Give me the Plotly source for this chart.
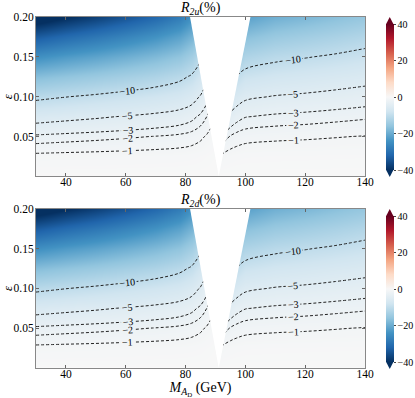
import plotly.graph_objects as go
from plotly.subplots import make_subplots

# grid (M_AD in GeV, epsilon)
M_cols = [30, 40, 50, 60, 70, 78, 82, 85, 87, 89, 91, 92, 93, 95, 97, 100, 110, 120, 130, 140]
eps_rows = [0.0, 0.025, 0.05, 0.075, 0.1, 0.125, 0.15, 0.175, 0.2]
n_left = 11  # columns below the Z pole (up to 91 GeV)

# R (%) values, one row per epsilon
z_R2u = [
    [0] * 20,
    [-0.68, -0.63, -0.59, -0.54, -0.49, -0.44, -0.38, -0.30, -0.23, -0.14, -0.06, -0.78, -0.63, -0.48, -0.40, -0.34, -0.30, -0.28, -0.26, -0.24],
    [-2.73, -2.53, -2.35, -2.16, -1.96, -1.75, -1.53, -1.20, -0.90, -0.58, -0.25, -3.13, -2.50, -1.90, -1.60, -1.36, -1.21, -1.14, -1.05, -0.96],
    [-6.13, -5.68, -5.29, -4.87, -4.42, -3.94, -3.43, -2.70, -2.03, -1.29, -0.56, -7.03, -5.63, -4.28, -3.60, -3.07, -2.73, -2.56, -2.36, -2.17],
    [-10.9, -10.1, -9.4, -8.65, -7.85, -7.0, -6.1, -4.8, -3.6, -2.3, -1.0, -12.5, -10.0, -7.6, -6.4, -5.45, -4.85, -4.55, -4.2, -3.85],
    [-17.0, -15.8, -14.7, -13.5, -12.3, -10.9, -9.53, -7.5, -5.63, -3.59, -1.56, -19.5, -15.6, -11.9, -10.0, -8.52, -7.58, -7.11, -6.56, -6.02],
    [-24.5, -22.7, -21.2, -19.5, -17.7, -15.8, -13.7, -10.8, -8.1, -5.2, -2.3, -28.1, -22.5, -17.1, -14.4, -12.3, -10.9, -10.2, -9.5, -8.7],
    [-33.4, -30.9, -28.8, -26.5, -24.0, -21.4, -18.7, -14.7, -11.0, -7.0, -3.1, -38.3, -30.6, -23.3, -19.6, -16.7, -14.9, -13.9, -12.9, -11.8],
    [-43.6, -40.4, -37.6, -34.6, -31.4, -28.0, -24.4, -19.2, -14.4, -9.2, -4.0, -50.0, -40.0, -30.4, -25.6, -21.8, -19.4, -18.2, -16.8, -15.4],
]
z_R2d = [row[:] for row in z_R2u]  # the two panels look the same by eye

levels = [-10, -5, -3, -2, -1]

# excluded wedge around the Z mass
gap_M = [81.5, 91.1, 101.7]
gap_eps = [0.2, 0.0, 0.2]

rdbu_r = ['#053061', '#2166ac', '#4393c3', '#92c5de', '#d1e5f0', '#f7f7f7',
          '#fddbc7', '#f4a582', '#d6604d', '#b2182b', '#67001f']
FONT = 'Liberation Serif'

fig = make_subplots(rows=2, cols=1, vertical_spacing=0.092)

# pixel -> paper helper (plot area spans x 36..365, y 17..368)
L, T, W, H = 36, 17, 329, 351
def pp(xp, yp):
    return (xp - L) / W, 1 - (yp - T) / H

panels = [(1, z_R2u, '<i>R</i><sub><i>2u</i></sub>(%)', 'coloraxis', 97),
          (2, z_R2d, '<i>R</i><sub><i>2d</i></sub>(%)', 'coloraxis2', 289)]

for row, z, title, cax, cb_mid in panels:
    fig.add_trace(go.Heatmap(x=M_cols, y=eps_rows, z=z, coloraxis=cax, zsmooth='best',
                             hoverinfo='skip'), row=row, col=1)
    for sl in (slice(0, n_left), slice(n_left, None)):
        xs = M_cols[sl]
        zs = [r[sl] for r in z]
        for lv in levels:
            fig.add_trace(go.Contour(
                x=xs, y=eps_rows, z=zs, autocontour=False,
                contours=dict(start=lv, end=lv, size=1, coloring='none', showlabels=True,
                              labelfont=dict(family=FONT, size=10, color='black')),
                line=dict(color='#222', width=1, dash='3px,2px'),
                showscale=False, hoverinfo='skip'), row=row, col=1)
    fig.add_trace(go.Scatter(x=gap_M, y=gap_eps, fill='toself', fillcolor='white',
                             mode='lines', line=dict(width=0), hoverinfo='skip',
                             showlegend=False), row=row, col=1)

    yc = pp(0, cb_mid)[1]
    fig.update_layout(**{cax: dict(
        colorscale=rdbu_r, cmin=-40, cmax=40,
        colorbar=dict(thickness=7.5, len=145.5, lenmode='pixels', x=pp(386, 0)[0],
                      xanchor='left', y=yc, yanchor='middle', xpad=0, ypad=0,
                      outlinewidth=0, ticks='outside', ticklen=2, tickcolor='#444',
                      tickvals=[-40, -20, 0, 20, 40],
                      tickfont=dict(family=FONT, size=10, color='black')))})

    # extension triangles at both colorbar ends
    x0, _ = pp(386, 0)
    x1, _ = pp(393.5, 0)
    xm = (x0 + x1) / 2
    top_body, top_tip = pp(0, cb_mid - 72.7)[1], pp(0, cb_mid - 80)[1]
    bot_body, bot_tip = pp(0, cb_mid + 72.7)[1], pp(0, cb_mid + 80)[1]
    fig.add_shape(type='path', xref='paper', yref='paper', line_width=0, fillcolor='#67001f',
                  path=f'M {x0},{top_body} L {x1},{top_body} L {xm},{top_tip} Z')
    fig.add_shape(type='path', xref='paper', yref='paper', line_width=0, fillcolor='#053061',
                  path=f'M {x0},{bot_body} L {x1},{bot_body} L {xm},{bot_tip} Z')

    ytop = 1.0 if row == 1 else 0.454
    fig.add_annotation(text=title, x=0.5, y=ytop, xref='paper', yref='paper',
                       xanchor='center', yanchor='bottom', yshift=-2, showarrow=False,
                       font=dict(family=FONT, size=14, color='black'))

axis_style = dict(showline=True, linecolor='#888', linewidth=1, mirror='ticks', ticks='inside',
                  ticklen=3, tickcolor='#666', showgrid=False, zeroline=False, automargin=False,
                  tickfont=dict(family=FONT, size=11.5, color='black'))
fig.update_xaxes(range=[30, 140], tickvals=[40, 60, 80, 100, 120, 140], ticklabelstandoff=-5,
                 **axis_style)
fig.update_yaxes(range=[0, 0.2], tickvals=[0.05, 0.10, 0.15, 0.20], tickformat='.2f',
                 ticklabelstandoff=-1,
                 title=dict(text='<i>ε</i>', standoff=3, font=dict(family=FONT, size=13, color='black')),
                 **axis_style)
fig.update_xaxes(title=dict(text='<i>M</i><sub><i>A</i><sub>D</sub></sub> (GeV)', standoff=0,
                            font=dict(family=FONT, size=14, color='black')), row=2, col=1)

fig.update_layout(width=415, height=398, margin=dict(l=36, r=50, t=17, b=30, autoexpand=False),
                  paper_bgcolor='white', plot_bgcolor='white', showlegend=False,
                  font=dict(family=FONT, color='black'))

# the page's default body margin would shift the figure; drop it
fig.write_html("out.html", config={'displayModeBar': False},
               post_script="document.body.style.margin='0px';")
